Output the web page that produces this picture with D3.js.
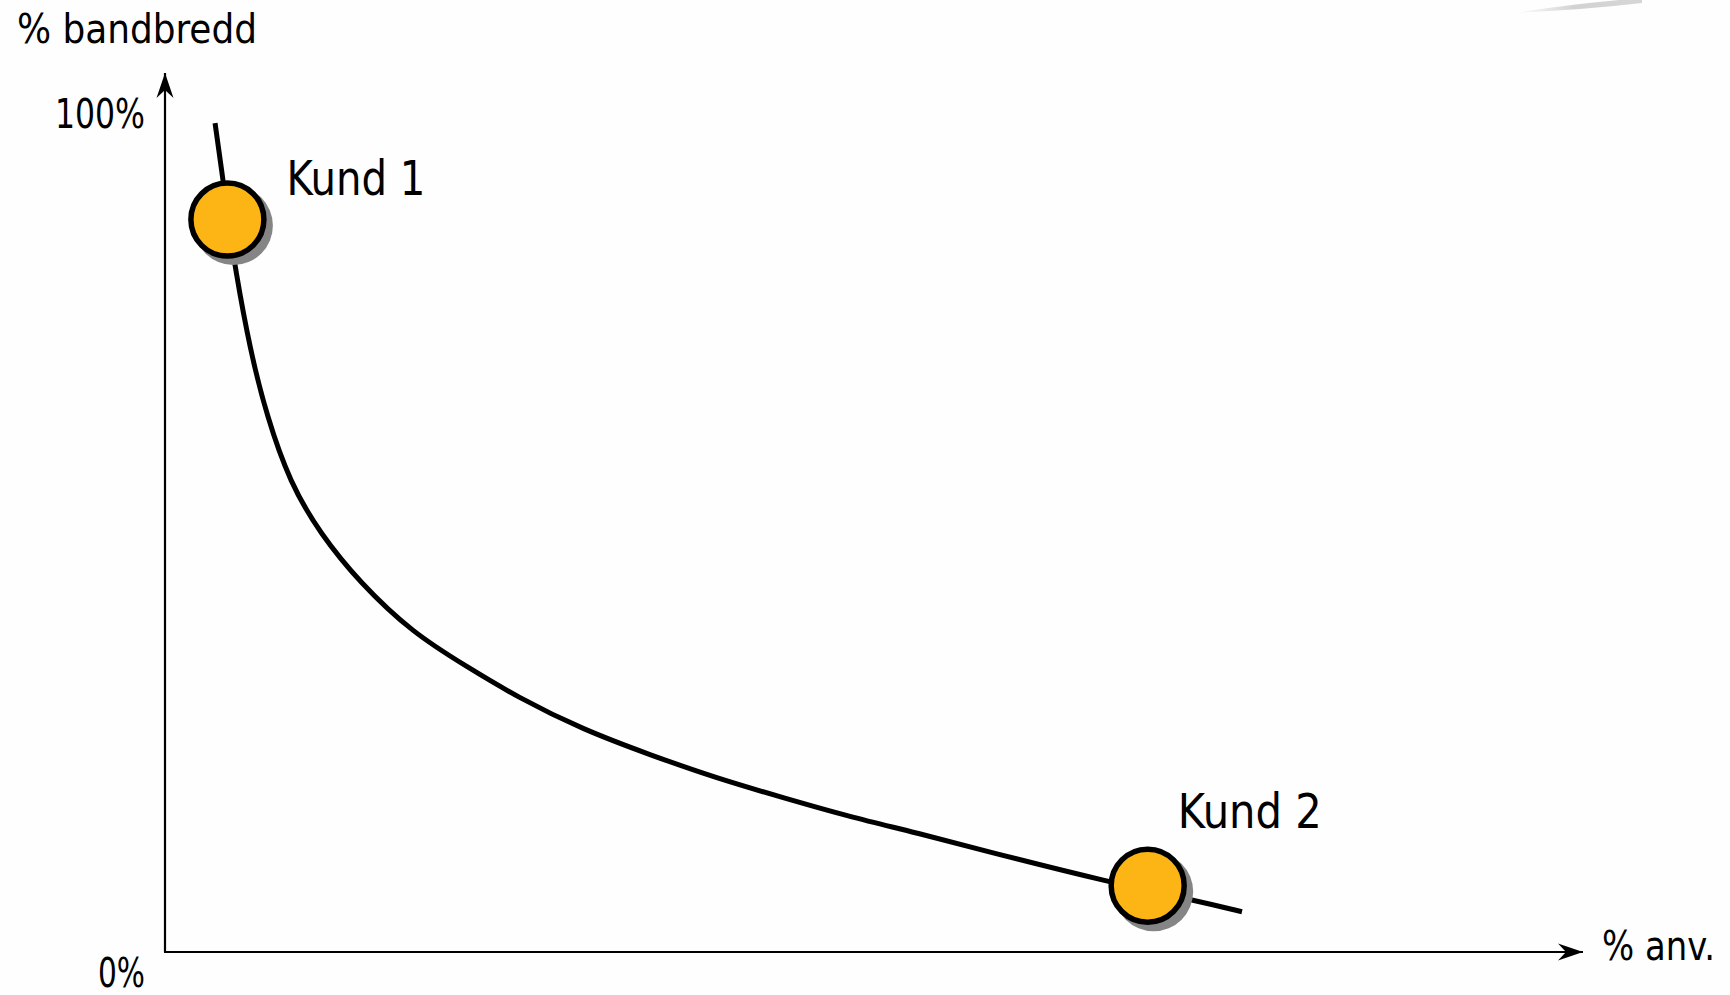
<!DOCTYPE html>
<html>
<head>
<meta charset="utf-8">
<script src="https://cdn.jsdelivr.net/npm/d3@7"></script>
<style>
  html, body { margin: 0; padding: 0; background: #fefefe; }
  svg { display: block; }
  text { font-family: "DejaVu Sans Condensed", "DejaVu Sans", sans-serif; fill: #000; }
</style>
</head>
<body>
<svg></svg>
<script>
const SIZE = { width: 1730, height: 995 }

// curve: % anv. (x) against % bandbredd (y)
const usage = [3.53, 4.09, 4.51, 4.94, 5.99, 7.19, 8.82, 10.93, 13.75, 17.49, 21.30, 24.82, 29.48, 34.20, 38.93, 43.58, 48.31, 53.03, 57.48, 66.64, 72.50, 75.95]
const bandwidth = [98.8, 92.0, 86.7, 81.6, 71.8, 63.8, 55.9, 49.9, 44.0, 38.0, 34.0, 30.4, 26.5, 23.5, 20.7, 18.4, 16.1, 14.2, 12.2, 8.3, 6.2, 4.8]

const customers = ['Kund 1', 'Kund 2']
const customerUsage = [4.4, 69.3]
const customerBandwidth = [87.3, 7.9]

const yTickValues = [100, 0]
const yTickLabels = ['100%', '0%']
const yTitle = '% bandbredd'
const xTitle = '% anv.'

const svg = d3.select('svg')
  .attr('width', SIZE.width)
  .attr('height', SIZE.height)

const x = d3.scaleLinear().domain([0, 100]).range([165, 1583])
const y = d3.scaleLinear().domain([0, 100]).range([952, 113])

// decorative swoosh top right
const defs = svg.append('defs')
const grad = defs.append('linearGradient').attr('id', 'swoosh')
grad.append('stop').attr('offset', '0%').attr('stop-color', '#e8e8e8').attr('stop-opacity', 0.3)
grad.append('stop').attr('offset', '45%').attr('stop-color', '#d2d2d2')
grad.append('stop').attr('offset', '100%').attr('stop-color', '#d6d6d6')
svg.append('path')
  .attr('d', 'M1518,12.5 Q1570,4 1642,-2 L1642,3 Q1582,10 1518,12.5 Z')
  .attr('fill', 'url(#swoosh)')

defs.append('marker')
  .attr('id', 'arrow')
  .attr('viewBox', '-26 -9 27 18')
  .attr('refX', 0).attr('refY', 0)
  .attr('markerWidth', 27).attr('markerHeight', 18)
  .attr('markerUnits', 'userSpaceOnUse')
  .attr('orient', 'auto')
  .append('path')
    .attr('d', 'M0,0 L-25,-8.5 L-17,0 L-25,8.5 Z')
    .attr('fill', '#000')

// axes
const axisLeft = d3.axisLeft(y).tickValues([]).tickSizeOuter(0)
const axisBottom = d3.axisBottom(x).tickValues([]).tickSizeOuter(0)

const gy = svg.append('g').attr('transform', `translate(${x(0)},0)`).call(axisLeft)
gy.select('.domain')
  .attr('d', `M0,${y(0)}V73`)
  .attr('stroke-width', 2.2)
  .attr('marker-end', 'url(#arrow)')

const gx = svg.append('g').attr('transform', `translate(0,${y(0)})`).call(axisBottom)
gx.select('.domain')
  .attr('d', `M${x(0) - 1},0H1583`)
  .attr('stroke-width', 2.2)
  .attr('marker-end', 'url(#arrow)')

// axis texts
const labelOffsets = [0, 20]
const labelWidths = [90, 47]
svg.selectAll('.ylab')
  .data(yTickValues)
  .join('text')
    .attr('class', 'ylab')
    .attr('x', 145)
    .attr('y', (d, i) => y(d) + 15 + labelOffsets[i])
    .attr('text-anchor', 'end')
    .attr('font-size', 40)
    .attr('textLength', (d, i) => labelWidths[i])
    .attr('lengthAdjust', 'spacingAndGlyphs')
    .text((d, i) => yTickLabels[i])

svg.append('text')
  .attr('x', 17)
  .attr('y', 43)
  .attr('font-size', 40)
  .attr('textLength', 240)
  .attr('lengthAdjust', 'spacingAndGlyphs')
  .text(yTitle)

svg.append('text')
  .attr('x', 1602)
  .attr('y', 960)
  .attr('font-size', 40)
  .attr('textLength', 113)
  .attr('lengthAdjust', 'spacingAndGlyphs')
  .text(xTitle)

// curve
const line = d3.line()
  .x(d => x(d[0]))
  .y(d => y(d[1]))
  .curve(d3.curveBasis)

svg.append('path')
  .datum(usage.map((u, i) => [u, bandwidth[i]]))
  .attr('d', line)
  .attr('fill', 'none')
  .attr('stroke', '#000')
  .attr('stroke-width', 5)

// customers
const points = customers.map((name, i) => ({ name, u: customerUsage[i], b: customerBandwidth[i] }))

const dots = svg.append('g')
  .selectAll('g')
  .data(points)
  .join('g')
    .attr('transform', d => `translate(${x(d.u)},${y(d.b)})`)

dots.append('circle')
  .attr('cx', 6).attr('cy', 6)
  .attr('r', 39.5)
  .attr('fill', '#858585')

dots.append('circle')
  .attr('r', 36.5)
  .attr('fill', '#fdb515')
  .attr('stroke', '#000')
  .attr('stroke-width', 5.5)

dots.append('text')
  .attr('x', 59)
  .attr('y', (d, i) => i === 0 ? -25 : -58)
  .attr('dx', (d, i) => i === 0 ? 0 : -29)
  .attr('font-size', 48)
  .attr('textLength', (d, i) => i === 0 ? 139 : 144)
  .attr('lengthAdjust', 'spacingAndGlyphs')
  .text(d => d.name)
</script>
</body>
</html>
